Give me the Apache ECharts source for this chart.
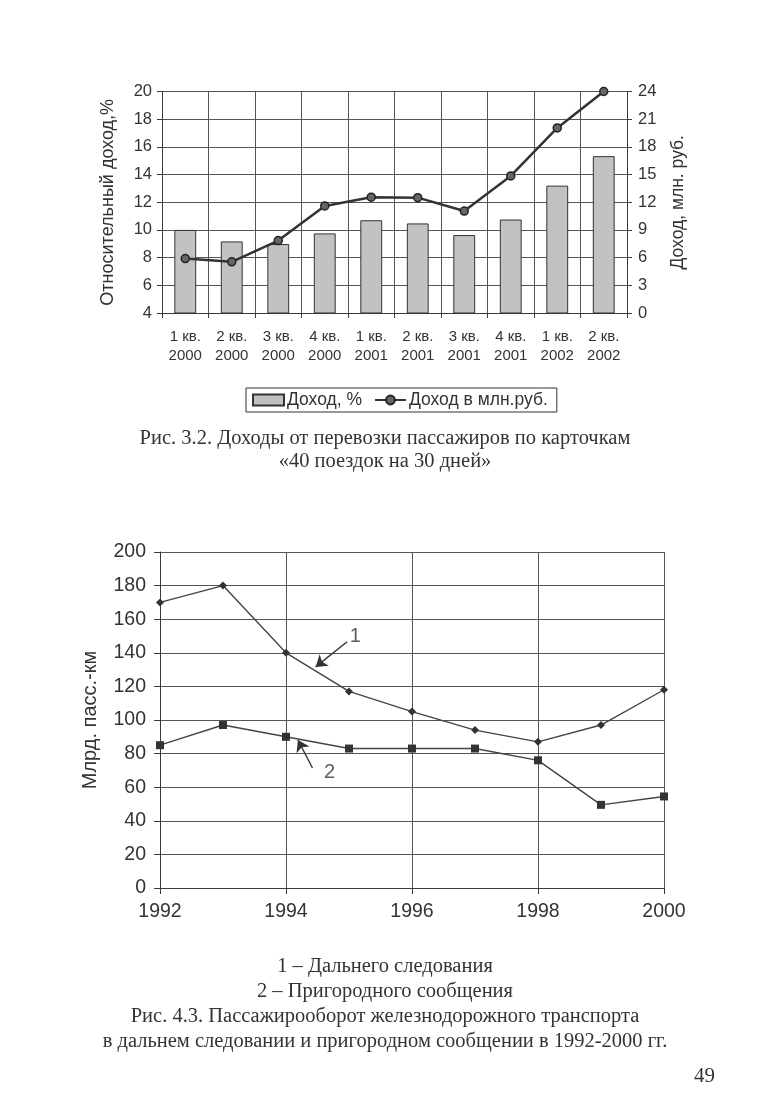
<!DOCTYPE html>
<html>
<head>
<meta charset="utf-8">
<script src="https://cdn.jsdelivr.net/npm/echarts@6/dist/echarts.min.js"></script>
<style>
html,body{margin:0;padding:0;background:#fff;}
#c{width:770px;height:1116px;}
</style>
</head>
<body>
<div id="c"></div>
<script>
// ---- Chart 1 data ----
const quarters = ['1 кв.\n2000','2 кв.\n2000','3 кв.\n2000','4 кв.\n2000','1 кв.\n2001','2 кв.\n2001','3 кв.\n2001','4 кв.\n2001','1 кв.\n2002','2 кв.\n2002'];
const incomePct = [10.0, 9.17, 8.98, 9.75, 10.7, 10.47, 9.63, 10.75, 13.2, 15.33];
const incomeMln = [5.9, 5.55, 7.85, 11.6, 12.55, 12.5, 11.05, 14.85, 20.05, 24.0];
const leftTicks = {min: 4, max: 20, interval: 2};
const rightTicks = {min: 0, max: 24, interval: 3};

// ---- Chart 2 data ----
const years = [1992, 1993, 1994, 1995, 1996, 1997, 1998, 1999, 2000];
const longDistance = [170, 180, 140, 117, 105, 94, 87, 97, 118];
const suburban = [85, 97, 90, 83, 83, 83, 76, 49.5, 54.5];
const yearTicks = {min: 1992, max: 2000, interval: 2};
const passTicks = {min: 0, max: 200, interval: 20};
// annotation arrows (data units): [fromX, fromY, toX, toY], label position
const arrow1 = [1994.97, 146.6, 1994.47, 131.6];
const arrow2 = [1994.42, 71.4, 1994.19, 88.1];
const label1 = [1995.1, 149.5, '1'];
const label2 = [1994.69, 68.8, '2'];

const SANS = '"Liberation Sans", Arial, sans-serif';
const SERIF = '"Liberation Serif", "Times New Roman", serif';
const TXT = '#333';
const LINE = '#3a3a3a';
const GRID = '#555';

const chart = echarts.init(document.getElementById('c'), null, {renderer: 'canvas'});

const option = {
  backgroundColor: '#fff',
  animation: false,
  textStyle: {fontFamily: SANS, color: TXT},
  grid: [
    {left: 162, top: 91.5, width: 465, height: 221.5, containLabel: false},
    {left: 160, top: 552, width: 504, height: 336, containLabel: false}
  ],
  legend: {
    data: [
      {name: 'Доход, %', icon: 'rect'},
      {name: 'Доход в млн.руб.'}
    ],
    left: 246, top: 388,
    orient: 'horizontal',
    itemWidth: 31, itemHeight: 11, itemGap: 12,
    padding: [3, 9, 3, 6],
    borderColor: '#333', borderWidth: 1, borderRadius: 0,
    backgroundColor: '#fff',
    textStyle: {fontFamily: SANS, fontSize: 17.5, color: TXT, padding: [0, 0, 0, -2]}
  },
  xAxis: [
    {
      gridIndex: 0, type: 'category', data: quarters, boundaryGap: true,
      axisLine: {show: true, lineStyle: {color: LINE, width: 1}},
      axisTick: {show: true, length: 5, lineStyle: {color: LINE}},
      axisLabel: {fontFamily: SANS, fontSize: 15, color: TXT, margin: 14, lineHeight: 19, interval: 0},
      splitLine: {show: true, interval: 0, lineStyle: {color: GRID, width: 1}}
    },
    {
      gridIndex: 1, type: 'value', min: yearTicks.min, max: yearTicks.max, interval: yearTicks.interval,
      axisLine: {show: true, onZero: false, lineStyle: {color: LINE, width: 1}},
      axisTick: {show: true, length: 6, lineStyle: {color: LINE}},
      axisLabel: {fontFamily: SANS, fontSize: 19.5, color: TXT, margin: 14, formatter: v => String(v)},
      splitLine: {show: true, lineStyle: {color: GRID, width: 1}}
    }
  ],
  yAxis: [
    {
      gridIndex: 0, type: 'value', position: 'left',
      min: leftTicks.min, max: leftTicks.max, interval: leftTicks.interval,
      name: 'Относительный доход,%', nameLocation: 'middle', nameGap: 45, nameRotate: 90,
      nameTextStyle: {fontFamily: SANS, fontSize: 18, color: TXT},
      axisLine: {show: true, lineStyle: {color: LINE, width: 1}},
      axisTick: {show: true, length: 5, lineStyle: {color: LINE}},
      axisLabel: {fontFamily: SANS, fontSize: 16.5, color: TXT, margin: 10},
      splitLine: {show: true, lineStyle: {color: GRID, width: 1}}
    },
    {
      gridIndex: 0, type: 'value', position: 'right',
      min: rightTicks.min, max: rightTicks.max, interval: rightTicks.interval,
      name: 'Доход, млн. руб.', nameLocation: 'middle', nameGap: 42, nameRotate: 90,
      nameTextStyle: {fontFamily: SANS, fontSize: 17.5, color: TXT},
      axisLine: {show: true, lineStyle: {color: LINE, width: 1}},
      axisTick: {show: true, length: 5, lineStyle: {color: LINE}},
      axisLabel: {fontFamily: SANS, fontSize: 16.5, color: TXT, margin: 11},
      splitLine: {show: false}
    },
    {
      gridIndex: 1, type: 'value',
      min: passTicks.min, max: passTicks.max, interval: passTicks.interval,
      name: 'Млрд. пасс.-км', nameLocation: 'middle', nameGap: 60, nameRotate: 90,
      nameTextStyle: {fontFamily: SANS, fontSize: 20, color: TXT},
      axisLine: {show: true, lineStyle: {color: LINE, width: 1}},
      axisTick: {show: true, length: 6, lineStyle: {color: LINE}},
      axisLabel: {fontFamily: SANS, fontSize: 19.5, color: TXT, margin: 14},
      splitLine: {show: true, lineStyle: {color: GRID, width: 1}}
    }
  ],
  series: [
    {
      name: 'Доход, %', type: 'bar', xAxisIndex: 0, yAxisIndex: 0,
      data: incomePct, barWidth: '47%',
      itemStyle: {color: '#c2c2c2', borderColor: '#333', borderWidth: 1}
    },
    {
      name: 'Доход в млн.руб.', type: 'line', xAxisIndex: 0, yAxisIndex: 1,
      data: incomeMln, symbol: 'circle', symbolSize: 8,
      lineStyle: {color: '#333', width: 2.5},
      itemStyle: {color: '#666', borderColor: '#222', borderWidth: 1.5}
    },
    {
      name: '1', type: 'line', xAxisIndex: 1, yAxisIndex: 2,
      data: years.map((y, i) => [y, longDistance[i]]),
      symbol: 'diamond', symbolSize: 8,
      lineStyle: {color: '#444', width: 1.4},
      itemStyle: {color: '#333'},
      markLine: {
        silent: true, symbol: ['none', 'arrow'], symbolSize: 11,
        label: {show: false},
        lineStyle: {color: '#333', width: 1.4, type: 'solid'},
        data: [[{coord: [arrow1[0], arrow1[1]]}, {coord: [arrow1[2], arrow1[3]]}]]
      }
    },
    {
      name: '2', type: 'line', xAxisIndex: 1, yAxisIndex: 2,
      data: years.map((y, i) => [y, suburban[i]]),
      symbol: 'rect', symbolSize: 8,
      lineStyle: {color: '#444', width: 1.4},
      itemStyle: {color: '#333'},
      markLine: {
        silent: true, symbol: ['none', 'arrow'], symbolSize: 11,
        label: {show: false},
        lineStyle: {color: '#333', width: 1.4, type: 'solid'},
        data: [[{coord: [arrow2[0], arrow2[1]]}, {coord: [arrow2[2], arrow2[3]]}]]
      }
    },
    {
      name: 'labels', type: 'scatter', xAxisIndex: 1, yAxisIndex: 2,
      data: [label1, label2], symbolSize: 0,
      label: {show: true, position: 'inside', formatter: p => p.value[2],
        fontFamily: SANS, fontSize: 20, color: TXT}
    }
  ],
  graphic: [
    {type: 'text', left: 'center', top: 428, style: {text: 'Рис. 3.2. Доходы от перевозки пассажиров по карточкам', font: '20.5px ' + SERIF, fill: TXT}},
    {type: 'text', left: 'center', top: 451, style: {text: '«40 поездок на 30 дней»', font: '20.5px ' + SERIF, fill: TXT}},
    {type: 'text', left: 'center', top: 956, style: {text: '1 – Дальнего следования', font: '20.5px ' + SERIF, fill: TXT}},
    {type: 'text', left: 'center', top: 981, style: {text: '2 – Пригородного сообщения', font: '20.5px ' + SERIF, fill: TXT}},
    {type: 'text', left: 'center', top: 1006, style: {text: 'Рис. 4.3. Пассажирооборот железнодорожного транспорта', font: '20.5px ' + SERIF, fill: TXT}},
    {type: 'text', left: 'center', top: 1031, style: {text: 'в дальнем следовании и пригородном сообщении в 1992-2000 гг.', font: '20.5px ' + SERIF, fill: TXT}},
    {type: 'text', right: 55, top: 1066, style: {text: '49', font: '21px ' + SERIF, fill: TXT}}
  ]
};
chart.setOption(option);
</script>
</body>
</html>
